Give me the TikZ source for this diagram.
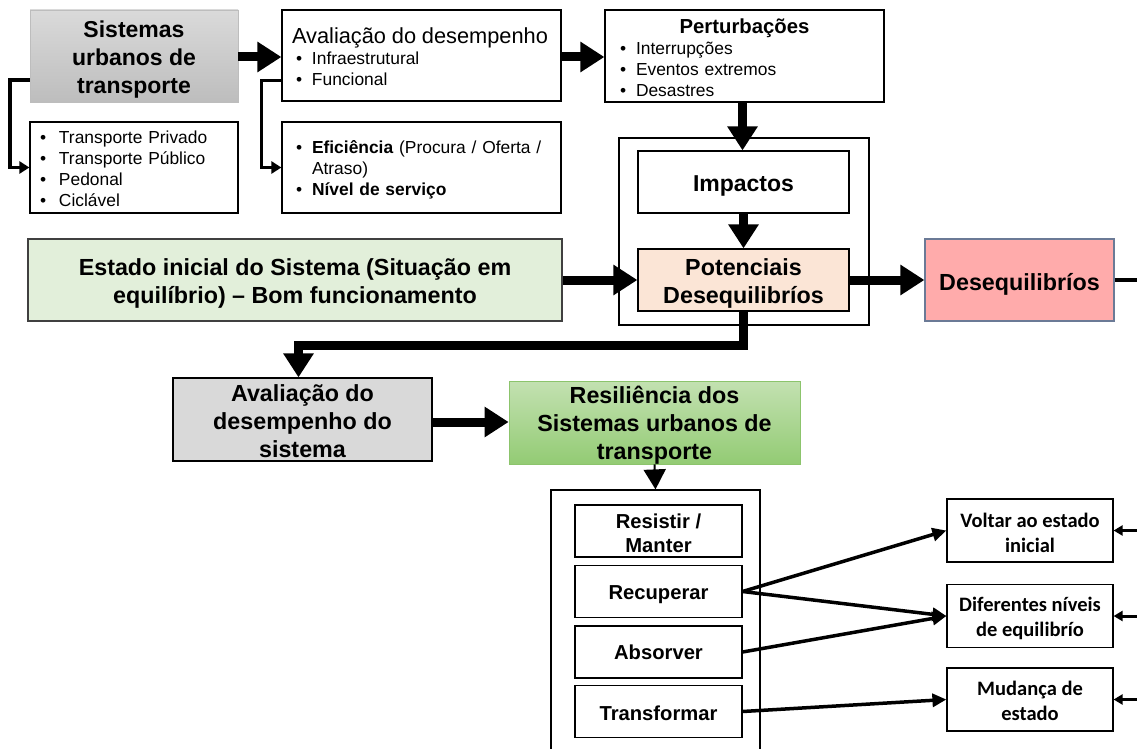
\documentclass[tikz,border=0pt]{standalone}
\usepackage{fontspec}
\setmainfont{Liberation Sans}
\newfontfamily\calibfont{Carlito}
\usetikzlibrary{arrows.meta}

\definecolor{sutTop}{HTML}{DADADA}
\definecolor{sutBot}{HTML}{BDBDBD}
\definecolor{estFill}{HTML}{E2EFDA}
\definecolor{potFill}{HTML}{FBE5D6}
\definecolor{desFill}{HTML}{FFABAB}
\definecolor{desDraw}{HTML}{6B7A96}
\definecolor{avsFill}{HTML}{D9D9D9}
\definecolor{resTop}{HTML}{C3E1B1}
\definecolor{resBot}{HTML}{93CB74}
\definecolor{resDraw}{HTML}{8CC46C}

\newcommand{\bul}[1]{\makebox[#1][l]{\textbullet}}

\begin{document}
\begin{tikzpicture}[x=1pt,y=-1pt,
  box/.style 2 args={draw=black, line width=1.2pt, inner sep=0pt,
    minimum width=#1pt, minimum height=#2pt},
  txt/.style={inner sep=0pt, align=center},
  ltxt/.style={inner sep=0pt, align=left, text width=#1pt},
  bigtxt/.style={font=\fontsize{23.3}{28}\selectfont\bfseries},
  smalltxt/.style={font=\fontsize{17.4}{21}\selectfont},
  captxt/.style={font=\fontsize{20.2}{24}\selectfont\bfseries},
  outtxt/.style={font=\calibfont\fontsize{20.5}{25}\selectfont\bfseries},
  bigarr/.style={line width=9pt, -{Triangle[length=24pt,width=29pt]}},
  elbow/.style={line width=3.8pt, line join=miter, -{Triangle[length=10pt,width=12pt]}},
  midarr/.style={line width=3.5pt, -{Triangle[length=14pt,width=13pt]}},
  tinyarr/.style={line width=3pt, -{Triangle[length=9pt,width=10pt]}}]
\useasboundingbox (0,0) rectangle (1137,749);

% containers
\node[box={250}{187}] (grpImp) at (744,231.5) {};
\node[box={209}{272}] (grpRes) at (655.5,626) {};

% ---- boxes ----
\node[box={208}{92}, draw=sutBot, line width=0.8pt, top color=sutTop, bottom color=sutBot] (sut) at (134,56) {};
\node[box={208}{91}] (modos) at (134,167.5) {};
\node[box={279}{91}] (aval) at (421.5,55.5) {};
\node[box={279}{91}] (efic) at (421.5,167.5) {};
\node[box={279}{92}] (pert) at (744.5,56) {};
\node[box={211}{62}] (imp) at (743.5,182) {};
\node[box={211}{62}, fill=potFill] (pot) at (743.5,280) {};
\node[box={534}{82}, fill=estFill, draw=black!75] (est) at (295,280) {};
\node[box={189}{82}, fill=desFill, draw=desDraw] (deseq) at (1019.5,280) {};
\node[box={259}{83}, fill=avsFill] (avs) at (302.5,419.5) {};
\node[box={291}{83}, draw=resDraw, line width=0.8pt, top color=resTop, bottom color=resBot] (res) at (654.5,422.5) {};
\node[box={167}{52}] (resist) at (658.5,531) {};
\node[box={167}{52}] (recup) at (658.5,591.5) {};
\node[box={167}{52}] (absor) at (658.5,652) {};
\node[box={167}{52}] (transf) at (658.5,711.5) {};
\node[box={166}{63}] (volta) at (1030,530.5) {};
\node[box={166}{63}] (difer) at (1030,616) {};
\node[box={166}{63}] (mudan) at (1030,699.5) {};

% ---- texts ----
\node[txt, font=\fontsize{23}{28}\selectfont\bfseries] (sut-t) at ([yshift=-4pt]sut.center)
  {Sistemas\\urbanos de\\transporte};
\node[ltxt=188, smalltxt] (modos-t) at ([yshift=-1.5pt]modos.center)
  {\bul{19pt}Transporte Privado\\\bul{19pt}Transporte Público\\\bul{19pt}Pedonal\\\bul{19pt}Ciclável};
\node[ltxt=259, smalltxt] (aval-t) at ([yshift=-1pt]aval.center)
  {{\fontsize{21.8}{24}\selectfont Avaliação do desempenho}\\
   \hspace*{4pt}\bul{16pt}Infraestrutural\\\hspace*{4pt}\bul{16pt}Funcional};
\node[ltxt=259, smalltxt] (efic-t) at ([yshift=-2pt]efic.center)
  {\hspace*{4pt}\bul{16pt}\textbf{Eficiência} (Procura / Oferta /\\
   \hspace*{20pt}Atraso)\\\hspace*{4pt}\bul{16pt}\textbf{Nível de serviço}};
\node[ltxt=249, smalltxt] (pert-t) at ([yshift=-2pt]pert.center)
  {\makebox[249pt][c]{\fontsize{20.3}{24}\selectfont\bfseries Perturbações}\\
   \bul{16pt}Interrupções\\\bul{16pt}Eventos extremos\\\bul{16pt}Desastres};
\node[txt, font=\fontsize{23}{26}\selectfont\bfseries] (imp-t) at ([yshift=-4pt]imp.center) {Impactos};
\node[txt, bigtxt] (pot-t) at ([yshift=-3pt]pot.center) {Potenciais\\Desequilibríos};
\node[txt, bigtxt] (est-t) at ([yshift=-3.5pt]est.center)
  {Estado inicial do Sistema (Situação em\\equilíbrio) – Bom funcionamento};
\node[txt, bigtxt] (deseq-t) at ([yshift=-4pt]deseq.center) {Desequilibríos};
\node[txt, bigtxt] (avs-t) at ([yshift=-2pt]avs.center) {Avaliação do\\desempenho do\\sistema};
\node[txt, bigtxt] (res-t) at ([yshift=-3pt]res.center) {Resiliência dos\\Sistemas urbanos de\\transporte};
\node[txt, captxt] (resist-t) at ([yshift=-2pt]resist.center) {Resistir /\\Manter};
\node[txt, captxt] (recup-t) at ([yshift=-3pt]recup.center) {Recuperar};
\node[txt, captxt] (absor-t) at ([yshift=-0.5pt]absor.center) {Absorver};
\node[txt, captxt] (transf-t) at ([yshift=-1.5pt]transf.center) {Transformar};
\node[txt, outtxt] (volta-t) at ([yshift=-2pt]volta.center) {Voltar ao estado\\inicial};
\node[txt, outtxt] (difer-t) at ([yshift=-2pt]difer.center) {Diferentes níveis\\de equilibrío};
\node[txt, outtxt] (mudan-t) at ([yshift=-1.5pt]mudan.center) {Mudança de\\estado};

% loose ends at the right edge
\coordinate (edgeDes) at (1137,280);
\coordinate (edgeA) at (1137,530.5);
\coordinate (edgeB) at (1137,616);
\coordinate (edgeC) at (1137,699.5);

% ---- connectors ----
\draw[bigarr] (sut.east |- 0,57) -- (aval.west |- 0,57);
\draw[bigarr] (aval.east |- 0,57) -- (pert.west |- 0,57);
\draw[elbow] ([yshift=22pt]sut.south west) -- ++(-20,0) |- (modos.west);
\draw[elbow] ([yshift=21pt]aval.south west) -- ++(-20,0) |- (efic.west);
\draw[bigarr] ([xshift=-2pt]pert.south) -- ([xshift=-1pt]imp.north);
\draw[bigarr] (imp.south) -- (pot.north);
\draw[bigarr] (est.east) -- (pot.west);
\draw[bigarr] (pot.east) -- (deseq.west);
\draw[line width=3.5pt] (deseq.east) -- (edgeDes);
\draw[bigarr, line join=miter] (pot.south) -- ++(0,34) -| ([xshift=-4pt]avs.north);
\draw[bigarr] (avs.east |- 0,422) -- (res.west |- 0,422);
\draw[line width=2pt, -{Triangle[length=20pt,width=22pt]}] (res.south) -- (grpRes.north);

\draw[midarr] (recup.east) -- (volta.west);
\draw[midarr] (recup.east) -- (difer.west);
\draw[midarr] (absor.east) -- (difer.west);
\draw[midarr] (transf.east) -- (mudan.west);

\draw[tinyarr] (edgeA) -- (volta.east);
\draw[tinyarr] (edgeB) -- (difer.east);
\draw[tinyarr] (edgeC) -- (mudan.east);
\end{tikzpicture}
\end{document}
